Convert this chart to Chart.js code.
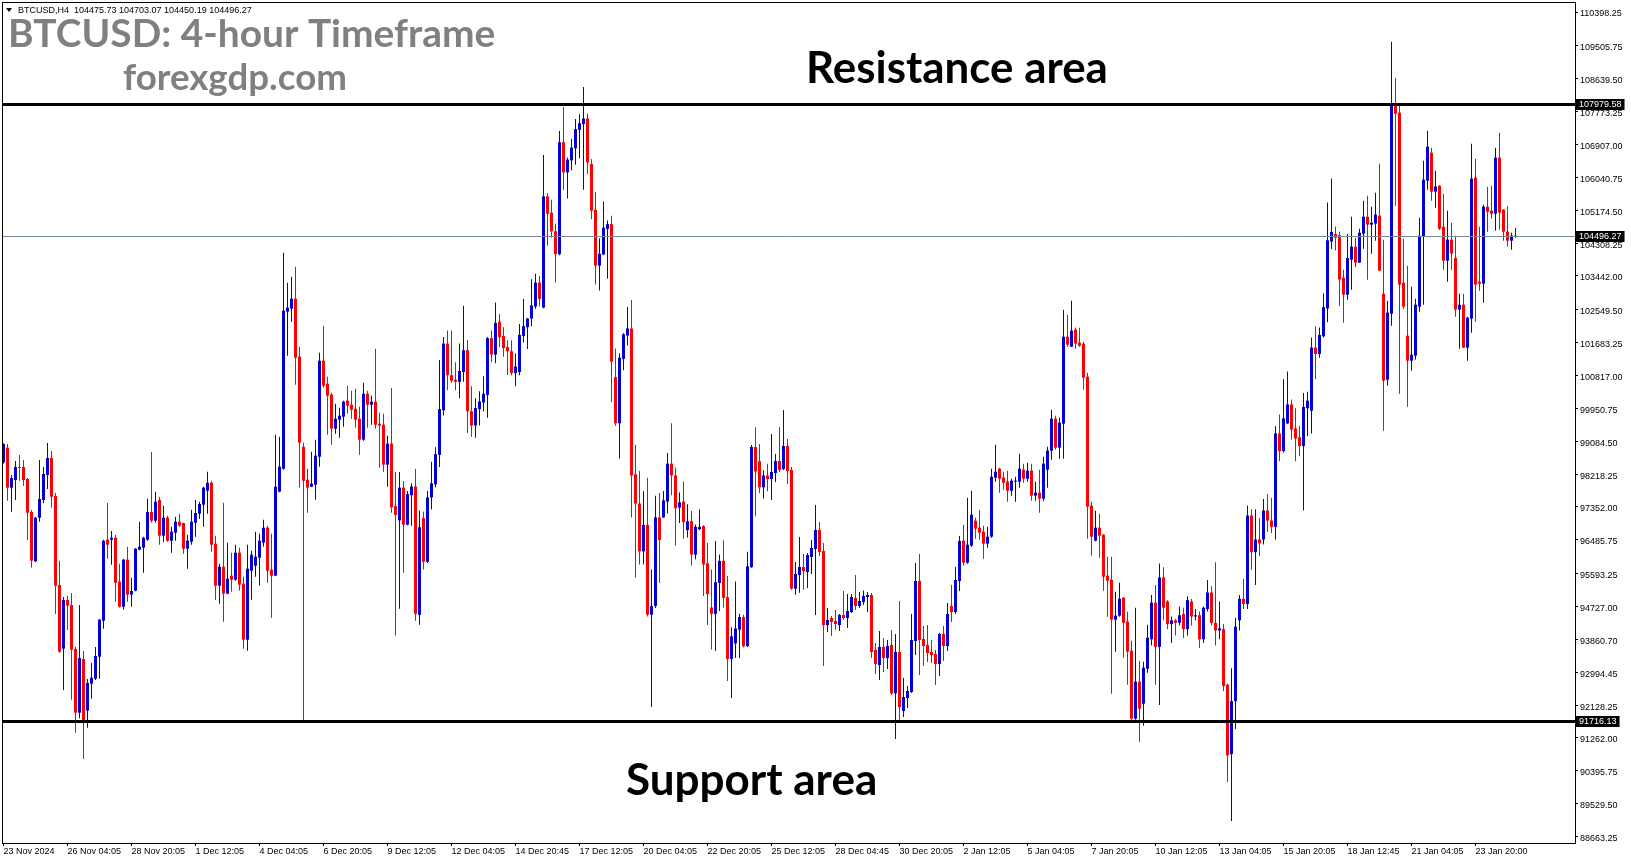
<!DOCTYPE html>
<html>
<head>
<meta charset="utf-8">
<title>BTCUSD H4</title>
<script src="https://cdn.jsdelivr.net/npm/chart.js@4.4.1/dist/chart.umd.min.js"></script>
<style>
  html, body { margin: 0; padding: 0; background: #fff; overflow: hidden; }
</style>
</head>
<body>
<canvas id="BtcChart" width="1631" height="861"></canvas>
<script>
// 4-hour candles (23 Nov 2024 -> 24 Jan 2025)
const openPrices = [
  98527,98914,97859,98061,98404,98404,98088,97218,95917,97068,97534,98193,98641,97640,95293,93615,94898,94766,93606,91928,
  93343,91981,92692,92824,93404,94353,96488,96488,96541,95381,94722,95961,95039,95144,96225,96278,96488,97218,96989,97534,
  96594,97068,96462,96673,96963,96928,96251,96436,96937,97174,97411,97780,97991,96383,95276,95777,95065,95539,95434,96146,
  95329,93852,95671,95803,96014,96409,96805,95698,95539,97754,98360,102499,102578,102841,101313,98940,98070,97886,97938,98676,
  101207,100601,100311,99415,99652,99731,100153,100047,99942,99678,99125,100337,100047,100126,99546,99520,98466,99021,97372,96998,
  97861,96883,97660,97889,94506,97056,95905,97602,97947,98723,99902,101657,100823,100708,100650,100909,101484,99874,99500,99931,
  100104,100305,101800,101369,102232,101858,101570,101455,100880,100909,101858,102088,102318,102634,103267,102606,105538,105107,104618,104015,
  106967,106171,106488,106804,107292,107443,107589,106391,105182,103713,104005,104682,104807,100775,99556,101254,101869,102056,98212,97441,
  96180,96878,94513,94742,97076,97076,97493,98493,98181,97336,97493,96742,96972,96097,96763,96847,95868,94701,94534,95347,
  95930,94972,93346,93752,94117,94451,93680,95764,98931,98556,97868,98181,98088,98246,98563,98352,98958,98325,95197,95557,
  95768,95637,96032,96243,96744,96190,94239,94424,94345,94239,94503,94424,94582,94951,94740,94846,94977,95030,93580,93185,
  93659,93369,93712,92438,93528,91972,92315,92473,93817,95399,93870,93712,93528,93475,93211,94002,93686,94740,94582,95399,
  96462,95883,96331,96990,96805,96700,96383,96568,98123,98360,98123,98018,97780,98018,98018,98334,98097,98308,97649,97728,
  97570,98334,98835,99679,98914,99547,101840,101576,102025,101682,101656,100786,97385,96462,96805,96621,95540,95434,94380,94486,
  94960,94327,93563,91770,92746,92165,93088,93863,94829,93664,95494,94862,94263,94363,94296,94529,94130,94862,94463,94496,
  93863,94662,95095,94296,94096,94130,92665,90835,92233,94363,94928,94795,97125,96160,96493,96493,97258,96992,96826,99289,
  98823,99555,100054,99422,99189,98956,99954,99888,101552,101385,101851,102583,104347,104547,104514,103395,102947,103870,104212,103791,
  104555,105003,104792,104819,105029,102973,100706,102446,107955,107745,103263,101866,101207,101339,102631,104476,105952,106690,105662,105820,
  104740,103843,104397,103913,102552,102683,101550,102315,106031,103290,103237,105267,105161,105082,106558,105188,104608,104370,104475.73
];
const highPrices = [
  99028,99010,98193,98562,98720,98589,98114,97271,97086,98589,98404,99037,98826,97719,95935,94977,95003,95083,93659,94766,
  93554,92815,93237,93659,94397,96488,97455,96717,96612,95856,95980,96304,95487,96260,96963,96568,97569,98799,97754,97622,
  97385,97121,96831,97095,97174,96935,96620,97279,97534,97490,97886,98281,98044,96594,95856,97464,96409,96146,96357,96278,
  95513,96357,96199,96699,96647,97016,96858,96647,99256,99204,104054,103263,103421,103685,101576,99046,98360,98808,99125,101418,
  102130,100785,100364,100074,99968,100153,100548,100416,100469,99994,100627,100416,100284,101523,99836,99810,99230,100487,98273,98273,
  98033,97774,97976,98349,97257,97228,97774,98541,98925,101225,101829,102002,102002,101168,101657,102653,101752,100535,100219,100401,
  100794,101829,102002,102740,102433,102088,101743,101743,101398,102174,102836,102330,103353,103497,103439,106631,105625,105452,104820,107264,
  107896,106564,107053,107580,107705,108420,107714,106526,105651,104432,105401,104901,105026,101525,101400,101931,102619,102806,98993,98306,
  97764,98118,95701,97649,97722,97774,98774,99556,98389,97732,98024,97420,97243,96889,97284,96868,96399,95701,96451,96097,
  96472,95534,94180,95389,94534,94513,96169,98983,99451,99014,98316,98493,99274,98747,99459,99907,99142,98404,95900,96559,
  96111,96137,96480,97403,96955,96401,94687,94477,94635,94529,95136,95057,95057,95557,95109,95150,95109,95083,93765,94081,
  93897,93844,94108,94002,94872,92842,92631,94529,95874,96111,94213,94239,93844,93580,94029,94213,94819,95294,95768,96585,
  96884,97596,97780,97069,97280,96858,96831,98360,98993,98387,98281,98308,98097,98149,98756,98492,98519,98492,98018,98334,
  98677,98940,99916,99758,99705,102552,102420,102789,102077,102077,101708,100891,97490,97253,97174,96630,96041,96041,95118,95355,
  94970,94591,93826,94696,93299,93273,94248,95028,95295,95861,95761,94895,94463,94396,94729,94695,94995,94928,94662,94596,
  94729,95428,95261,95894,94862,94263,92698,93098,94429,95028,95461,97391,97292,97292,97059,97558,97691,97591,99488,99788,
  100720,100919,100187,99954,99488,100354,100387,101818,102117,102084,102983,105379,106012,104747,104614,103606,104546,105003,104450,104687,
  105425,105557,105267,105636,106400,104397,102789,109616,108667,107955,104423,103712,103158,102841,104977,106479,107270,106822,106216,105830,
  105609,105161,104845,104502,102973,102973,102367,106927,106532,104740,105319,105794,105820,106822,107217,105200,105293,104581,104703.07
];
const lowPrices = [
  98500,97517,97227,97534,98044,97912,96480,95750,95900,96963,97446,97824,97332,94529,93510,92525,94107,92271,91401,91779,
  90707,91533,92297,92789,92824,94142,95988,95830,94854,94700,94643,94854,94722,95130,96210,95619,96462,96937,96937,96357,
  96436,96436,96146,96462,96831,96119,95724,96357,96568,97033,96831,97174,96172,94898,94801,94327,95050,95118,95408,95144,
  93615,93562,94907,95513,95276,96304,95355,94432,95530,97740,98334,101339,102235,100574,97859,91735,97200,97880,97543,98413,
  100495,99256,98993,99283,99177,99467,99810,99678,99441,98729,99098,99441,99520,99415,98386,98281,97886,97200,93960,94669,
  95618,96870,96855,94353,94248,95704,95877,97286,97861,98407,99759,100430,100621,100430,100219,100650,99299,99203,99174,99500,
  99874,99701,101168,101139,101570,101312,100832,100823,100535,100823,101685,101513,102117,102577,102634,102590,104245,104446,103267,103986,
  105711,105481,106229,106372,106545,105714,106130,104932,103213,103057,103990,103369,100118,99493,98629,100952,101608,97076,95493,95836,
  95836,94461,92075,94690,95347,97060,97180,97660,96336,96930,96513,96545,95805,95972,96742,95003,94242,93596,93555,94607,
  94701,92762,92314,93367,93367,93648,93660,95750,97107,97712,97576,97764,97534,98009,98273,98325,97956,95171,95039,95092,
  95171,95215,95584,94503,96058,93159,94055,93949,94108,94081,94371,94160,94556,94635,94687,94767,94582,93369,92948,92790,
  93000,93080,92394,91234,91735,91814,92051,92447,93449,92921,93159,93264,93238,92658,92895,93290,93554,94319,94529,95136,
  95803,95856,96304,96515,96489,95988,96278,96541,98018,97728,97807,97490,97649,97490,97860,97991,98018,97517,97517,97201,
  97517,97860,98598,98861,98624,98624,101576,101570,101524,101576,100443,96515,96067,96450,96014,95144,94459,92429,93536,94459,
  93378,92667,91744,91744,91164,91586,92983,93697,92665,92133,94363,94130,93764,93963,94229,93897,93963,94229,94363,93630,
  93764,94596,94229,93697,93863,92499,90102,89071,91501,94096,94662,94662,95694,95295,96060,96360,96693,96659,96493,98556,
  98789,99540,99122,98556,98689,97258,99222,99289,100720,101285,101818,102217,104148,104114,102650,102209,102815,103079,103668,103780,
  104160,103342,104028,104370,103570,99361,100548,102130,105293,100337,102578,99994,100944,101233,102499,102683,105715,105425,105240,104652,
  103606,103290,103606,102367,101523,101540,101207,101945,102235,103052,102736,104608,104950,104634,104660,104370,104212,104133,104450.19
];
const closePrices = [
  99010,97859,98114,98404,98378,98061,97200,95935,97068,97561,98220,98641,97622,95276,93536,94898,94749,93589,91928,93369,
  91735,92710,92851,93422,94380,96462,96357,96541,95355,94722,95961,95039,95135,96251,96304,96541,97218,96989,97490,96594,
  97068,96462,96700,96963,96858,96251,96462,96963,97192,97429,97859,97991,96357,95276,95777,95065,95460,95434,96146,95302,
  93852,95724,96093,96040,96462,96805,95671,95539,97886,98413,102525,102604,102841,101286,99046,98044,97859,97965,98703,101207,
  100548,100284,99415,99678,99757,100126,100021,99915,99652,99125,100337,100047,100126,99520,99494,98466,99019,97343,97142,97861,
  96883,97688,97889,94535,96816,95905,97602,97976,98743,99931,101657,100823,100679,100650,100938,101484,99874,99500,99960,100133,
  100334,101800,101369,102203,101829,101542,101455,100880,101053,101887,102117,102318,102663,103267,102836,105538,105078,104618,104015,106967,
  106171,106507,106823,107312,107465,107589,106432,105161,103713,104026,104713,104807,101181,99556,101285,101900,102056,98181,97441,96180,
  96878,94513,94742,97076,96482,97524,98493,98181,97316,97472,96951,96972,96097,96826,96826,95836,95055,94534,95368,95930,
  94951,93346,93940,94148,94451,93680,95784,98931,98285,97868,98181,98087,98273,98563,98325,98958,98299,95197,95584,95768,
  95663,96085,96269,96744,96164,94239,94371,94319,94266,94503,94424,94608,94977,94740,94872,95004,95030,93528,93211,93659,
  93369,93686,92438,93528,92078,92341,92500,93844,95399,93844,93686,93501,93449,93211,94002,93686,94529,94582,95426,96454,
  95883,96357,97148,96779,96673,96383,96568,98149,98281,98097,97991,97780,98044,98044,98360,98097,98308,97649,97728,97570,
  98492,98835,99679,98914,99573,101840,101629,101998,101656,101603,100759,97359,96568,96805,96594,95513,95408,94380,94486,94934,
  94301,93536,91770,92746,92034,93114,93905,94829,93664,95494,94695,94263,94363,94296,94496,94130,94895,94463,94496,93863,
  94695,95095,94296,94096,94152,92632,90801,92233,94196,94928,94795,97125,96160,96493,96393,97258,96992,96826,99289,98823,
  99688,100054,99388,99155,98956,99987,100154,101552,101385,101885,102617,104381,104603,104447,103349,102947,103913,104212,103791,104581,
  105003,104792,104845,105056,103580,100680,102473,107955,107718,103211,102631,101207,101365,102683,104502,105978,106848,105662,105794,104687,
  103843,104397,104028,102552,102683,101550,102341,106005,103211,103237,105267,105135,105082,106558,105109,104608,104370,104502,104496.27
];

// time labels under the chart, one every 16 candles
const xTickLabels = ['23 Nov 2024', '26 Nov 04:05', '28 Nov 20:05', '1 Dec 12:05', '4 Dec 04:05', '6 Dec 20:05',
  '9 Dec 12:05', '12 Dec 04:05', '14 Dec 20:45', '17 Dec 12:05', '20 Dec 04:05', '22 Dec 20:05', '25 Dec 12:05',
  '28 Dec 04:45', '30 Dec 20:05', '2 Jan 12:05', '5 Jan 04:05', '7 Jan 20:05', '10 Jan 12:05', '13 Jan 04:05',
  '15 Jan 20:05', '18 Jan 12:45', '21 Jan 04:05', '23 Jan 20:00'];
const xTickStep = 16;

// price labels on the right
const yTickLabels = [110398.25, 109505.75, 108639.50, 107773.25, 106907.00, 106040.75, 105174.50, 104308.25,
  103442.00, 102549.50, 101683.25, 100817.00, 99950.75, 99084.50, 98218.25, 97352.00, 96485.75, 95593.25,
  94727.00, 93860.70, 92994.45, 92128.25, 91262.00, 90395.75, 89529.50, 88663.25];

const resistanceLevel = 107979.58;
const supportLevel = 91716.13;
const yMin = 88493.09;
const yMax = 110661.85;

const bullColor = 'rgb(0,0,215)';
const bearColor = 'rgb(255,0,0)';

const lastIndex = closePrices.length - 1;
const candleColors = closePrices.map((c, i) => c >= openPrices[i] ? bullColor : bearColor);
const wickData = openPrices.map((o, i) => ({ x: i, y: [lowPrices[i], highPrices[i]] }));
const bodyData = openPrices.map((o, i) => ({ x: i, y: [Math.min(o, closePrices[i]), Math.max(o, closePrices[i])] }));

function fitText(c, text, x, baseline, width, color) {
  c.font = 'bold 100px Lato, "Open Sans", sans-serif';
  const size = 100 * width / c.measureText(text).width;
  c.font = 'bold ' + size.toFixed(1) + 'px Lato, "Open Sans", sans-serif';
  c.fillStyle = color;
  c.textAlign = 'left';
  c.textBaseline = 'alphabetic';
  c.fillText(text, x, baseline);
}

function priceBox(c, y, text, left) {
  c.font = '9px "Liberation Sans", Arial, sans-serif';
  const w = c.measureText(text).width + 6;
  c.fillStyle = '#000';
  c.fillRect(left + 1, Math.round(y) - 5, w, 11);
  c.fillStyle = '#fff';
  c.textAlign = 'left';
  c.textBaseline = 'middle';
  c.fillText(text, left + 4, Math.round(y) + 0.5);
}

// lines, labels and texts on top of the candles
const overlayPlugin = {
  id: 'overlay',
  afterDraw(chart) {
    const c = chart.ctx;
    const a = chart.chartArea;
    const y = chart.scales.y;
    c.save();

    // ask line
    const yLast = Math.round(y.getPixelForValue(closePrices[lastIndex])) + 0.5;
    c.strokeStyle = 'rgb(119,136,153)';
    c.lineWidth = 1;
    c.beginPath();
    c.moveTo(a.left, yLast);
    c.lineTo(a.right, yLast);
    c.stroke();

    // support and resistance
    c.strokeStyle = '#000';
    c.lineWidth = 3;
    [resistanceLevel, supportLevel].forEach(v => {
      const py = Math.round(y.getPixelForValue(v)) + 0.5;
      c.beginPath();
      c.moveTo(a.left, py);
      c.lineTo(a.right, py);
      c.stroke();
    });

    // frame
    c.lineWidth = 1;
    c.strokeRect(a.left + 0.5, a.top + 0.5, a.right - a.left, a.bottom - a.top);

    // price boxes on the axis
    priceBox(c, y.getPixelForValue(resistanceLevel), resistanceLevel.toFixed(2), a.right);
    priceBox(c, y.getPixelForValue(closePrices[lastIndex]), closePrices[lastIndex].toFixed(2), a.right);
    priceBox(c, y.getPixelForValue(supportLevel), supportLevel.toFixed(2), a.right);

    // header line
    c.fillStyle = '#000';
    c.beginPath();
    c.moveTo(6, 8);
    c.lineTo(12, 8);
    c.lineTo(9, 12);
    c.closePath();
    c.fill();
    c.font = '9px "Liberation Sans", Arial, sans-serif';
    c.textAlign = 'left';
    c.textBaseline = 'middle';
    const ohlc = [openPrices[lastIndex], highPrices[lastIndex], lowPrices[lastIndex], closePrices[lastIndex]];
    c.fillText('BTCUSD,H4  ' + ohlc.map(v => v.toFixed(2)).join(' '), 18, 10.5);

    fitText(c, 'BTCUSD: 4-hour Timeframe', 8, 47, 487, 'rgb(128,128,128)');
    fitText(c, 'forexgdp.com', 123, 90, 224, 'rgb(128,128,128)');
    fitText(c, 'Resistance area', 806, 83, 302, '#000');
    fitText(c, 'Support area', 626, 795, 251, '#000');
    c.restore();
  }
};

const ctx = document.getElementById('BtcChart');

const BtcChart = new Chart(ctx, {
  type: 'bar',
  data: {
    datasets: [{
      label: 'body',
      data: bodyData,
      backgroundColor: candleColors,
      grouped: false,
      maxBarThickness: 3,
      barPercentage: 1,
      categoryPercentage: 1,
      minBarLength: 1,
      inflateAmount: 0,
      borderWidth: 0,
      order: 0
    }, {
      label: 'wick',
      data: wickData,
      backgroundColor: candleColors,
      grouped: false,
      maxBarThickness: 1,
      barPercentage: 1,
      categoryPercentage: 1,
      inflateAmount: 0,
      borderWidth: 0,
      order: 1
    }]
  },
  options: {
    responsive: false,
    animation: false,
    devicePixelRatio: 1,
    layout: { padding: { left: 2, top: 2, right: 0, bottom: 0 } },
    plugins: {
      legend: { display: false },
      tooltip: { enabled: false }
    },
    scales: {
      x: {
        type: 'linear',
        min: -0.375,
        max: 392.875,
        offset: false,
        afterBuildTicks: s => { s.ticks = xTickLabels.map((t, k) => ({ value: k * xTickStep })); },
        afterFit: s => { s.height = 18; s.paddingLeft = 0; s.paddingRight = 0; },
        grid: { drawOnChartArea: false, drawTicks: true, tickLength: 3, color: '#000', offset: false },
        border: { display: false },
        ticks: {
          autoSkip: false,
          maxRotation: 0,
          align: 'start',
          padding: 0,
          color: '#000',
          font: { family: '"Liberation Sans", Arial, sans-serif', size: 9 },
          callback: v => xTickLabels[Math.round(v / xTickStep)]
        }
      },
      y: {
        position: 'right',
        min: yMin,
        max: yMax,
        beginAtZero: false,
        afterBuildTicks: s => { s.ticks = yTickLabels.map(v => ({ value: v })); },
        afterFit: s => { s.width = 56; s.paddingTop = 0; s.paddingBottom = 0; },
        grid: { drawOnChartArea: false, drawTicks: true, tickLength: 3, color: '#000' },
        border: { display: false },
        ticks: {
          autoSkip: false,
          padding: 2,
          labelOffset: 2,
          color: '#000',
          font: { family: '"Liberation Sans", Arial, sans-serif', size: 9 },
          callback: v => Number(v).toFixed(2)
        }
      }
    }
  },
  plugins: [overlayPlugin]
});
</script>
</body>
</html>
